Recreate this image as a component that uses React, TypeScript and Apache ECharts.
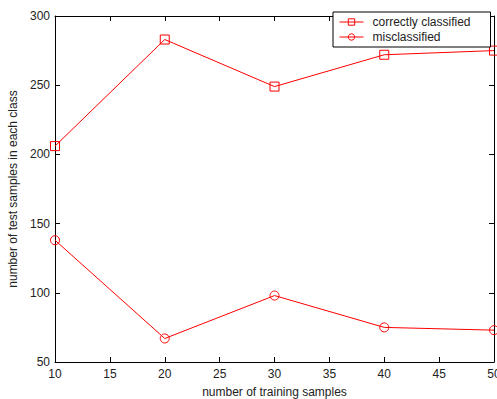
import React, { useEffect, useRef } from "react";
import * as echarts from "echarts";

const trainingSamples = [10, 20, 30, 40, 50];
const correctlyClassified = [206, 283, 249, 272, 275];
const misclassified = [138, 67, 98, 75, 73];
const seriesNames = ["correctly classified", "misclassified"];
const xTitle = "number of training samples";
const yTitle = "number of test samples in each class";

const FONT = "'Liberation Sans', Arial, sans-serif";

export default function App() {
  const ref = useRef<HTMLDivElement>(null);
  useEffect(() => {
    if (!ref.current) return;
    const chart = echarts.init(ref.current, undefined, { renderer: "svg" });
    const axisBase = {
      axisLine: { show: true, lineStyle: { color: "#000", width: 1 } },
      axisTick: { show: true, inside: true, length: 5, lineStyle: { color: "#000" } },
      splitLine: { show: false },
    };
    const mark = { color: "rgba(255,255,255,0)", borderColor: "#ff0000", borderWidth: 1 };
    chart.setOption({
      animation: false,
      backgroundColor: "#fff",
      textStyle: { fontFamily: FONT },
      grid: {
        left: 55,
        right: 3,
        top: 16,
        bottom: 37,
        containLabel: false,
        outerBoundsMode: "none",
      },
      legend: {
        orient: "vertical",
        left: 333,
        top: 12,
        width: 150,
        padding: [4, 20, 4, 6],
        itemGap: 3,
        itemWidth: 24,
        itemHeight: 8,
        backgroundColor: "#fff",
        borderColor: "#000",
        borderWidth: 1,
        itemStyle: { borderWidth: 1 },
        lineStyle: { width: 1 },
        textStyle: { fontSize: 12, color: "#222", fontFamily: FONT, padding: [0, 0, 0, 4] },
        data: seriesNames,
      },
      xAxis: [
        {
          ...axisBase,
          type: "value",
          min: 10,
          max: 50,
          interval: 5,
          position: "bottom",
          name: xTitle,
          nameLocation: "middle",
          nameGap: 24,
          nameTextStyle: { fontSize: 12, color: "#222", fontFamily: FONT },
          axisLabel: { fontSize: 12, color: "#222", margin: 6, fontFamily: FONT },
        },
        {
          ...axisBase,
          type: "value",
          min: 10,
          max: 50,
          interval: 5,
          position: "top",
          axisLabel: { show: false },
        },
      ],
      yAxis: [
        {
          ...axisBase,
          type: "value",
          min: 50,
          max: 300,
          interval: 50,
          position: "left",
          name: yTitle,
          nameLocation: "middle",
          nameGap: 33,
          nameRotate: 90,
          nameTextStyle: { fontSize: 12, color: "#222", fontFamily: FONT },
          axisLabel: { fontSize: 12, color: "#222", margin: 5, fontFamily: FONT },
        },
        {
          ...axisBase,
          type: "value",
          min: 50,
          max: 300,
          interval: 50,
          position: "right",
          axisLabel: { show: false },
        },
      ],
      series: [
        {
          name: seriesNames[0],
          type: "line",
          data: trainingSamples.map((x, i) => [x, correctlyClassified[i]]),
          symbol: "rect",
          symbolSize: 9,
          lineStyle: { color: "#ff0000", width: 1 },
          itemStyle: mark,
          emphasis: { disabled: true },
        },
        {
          name: seriesNames[1],
          type: "line",
          data: trainingSamples.map((x, i) => [x, misclassified[i]]),
          symbol: "circle",
          symbolSize: 9,
          lineStyle: { color: "#ff0000", width: 1 },
          itemStyle: mark,
          emphasis: { disabled: true },
        },
      ],
    });
    return () => chart.dispose();
  }, []);
  return <div ref={ref} style={{ width: 497, height: 399, position: "absolute", left: 0, top: 0 }} />;
}
